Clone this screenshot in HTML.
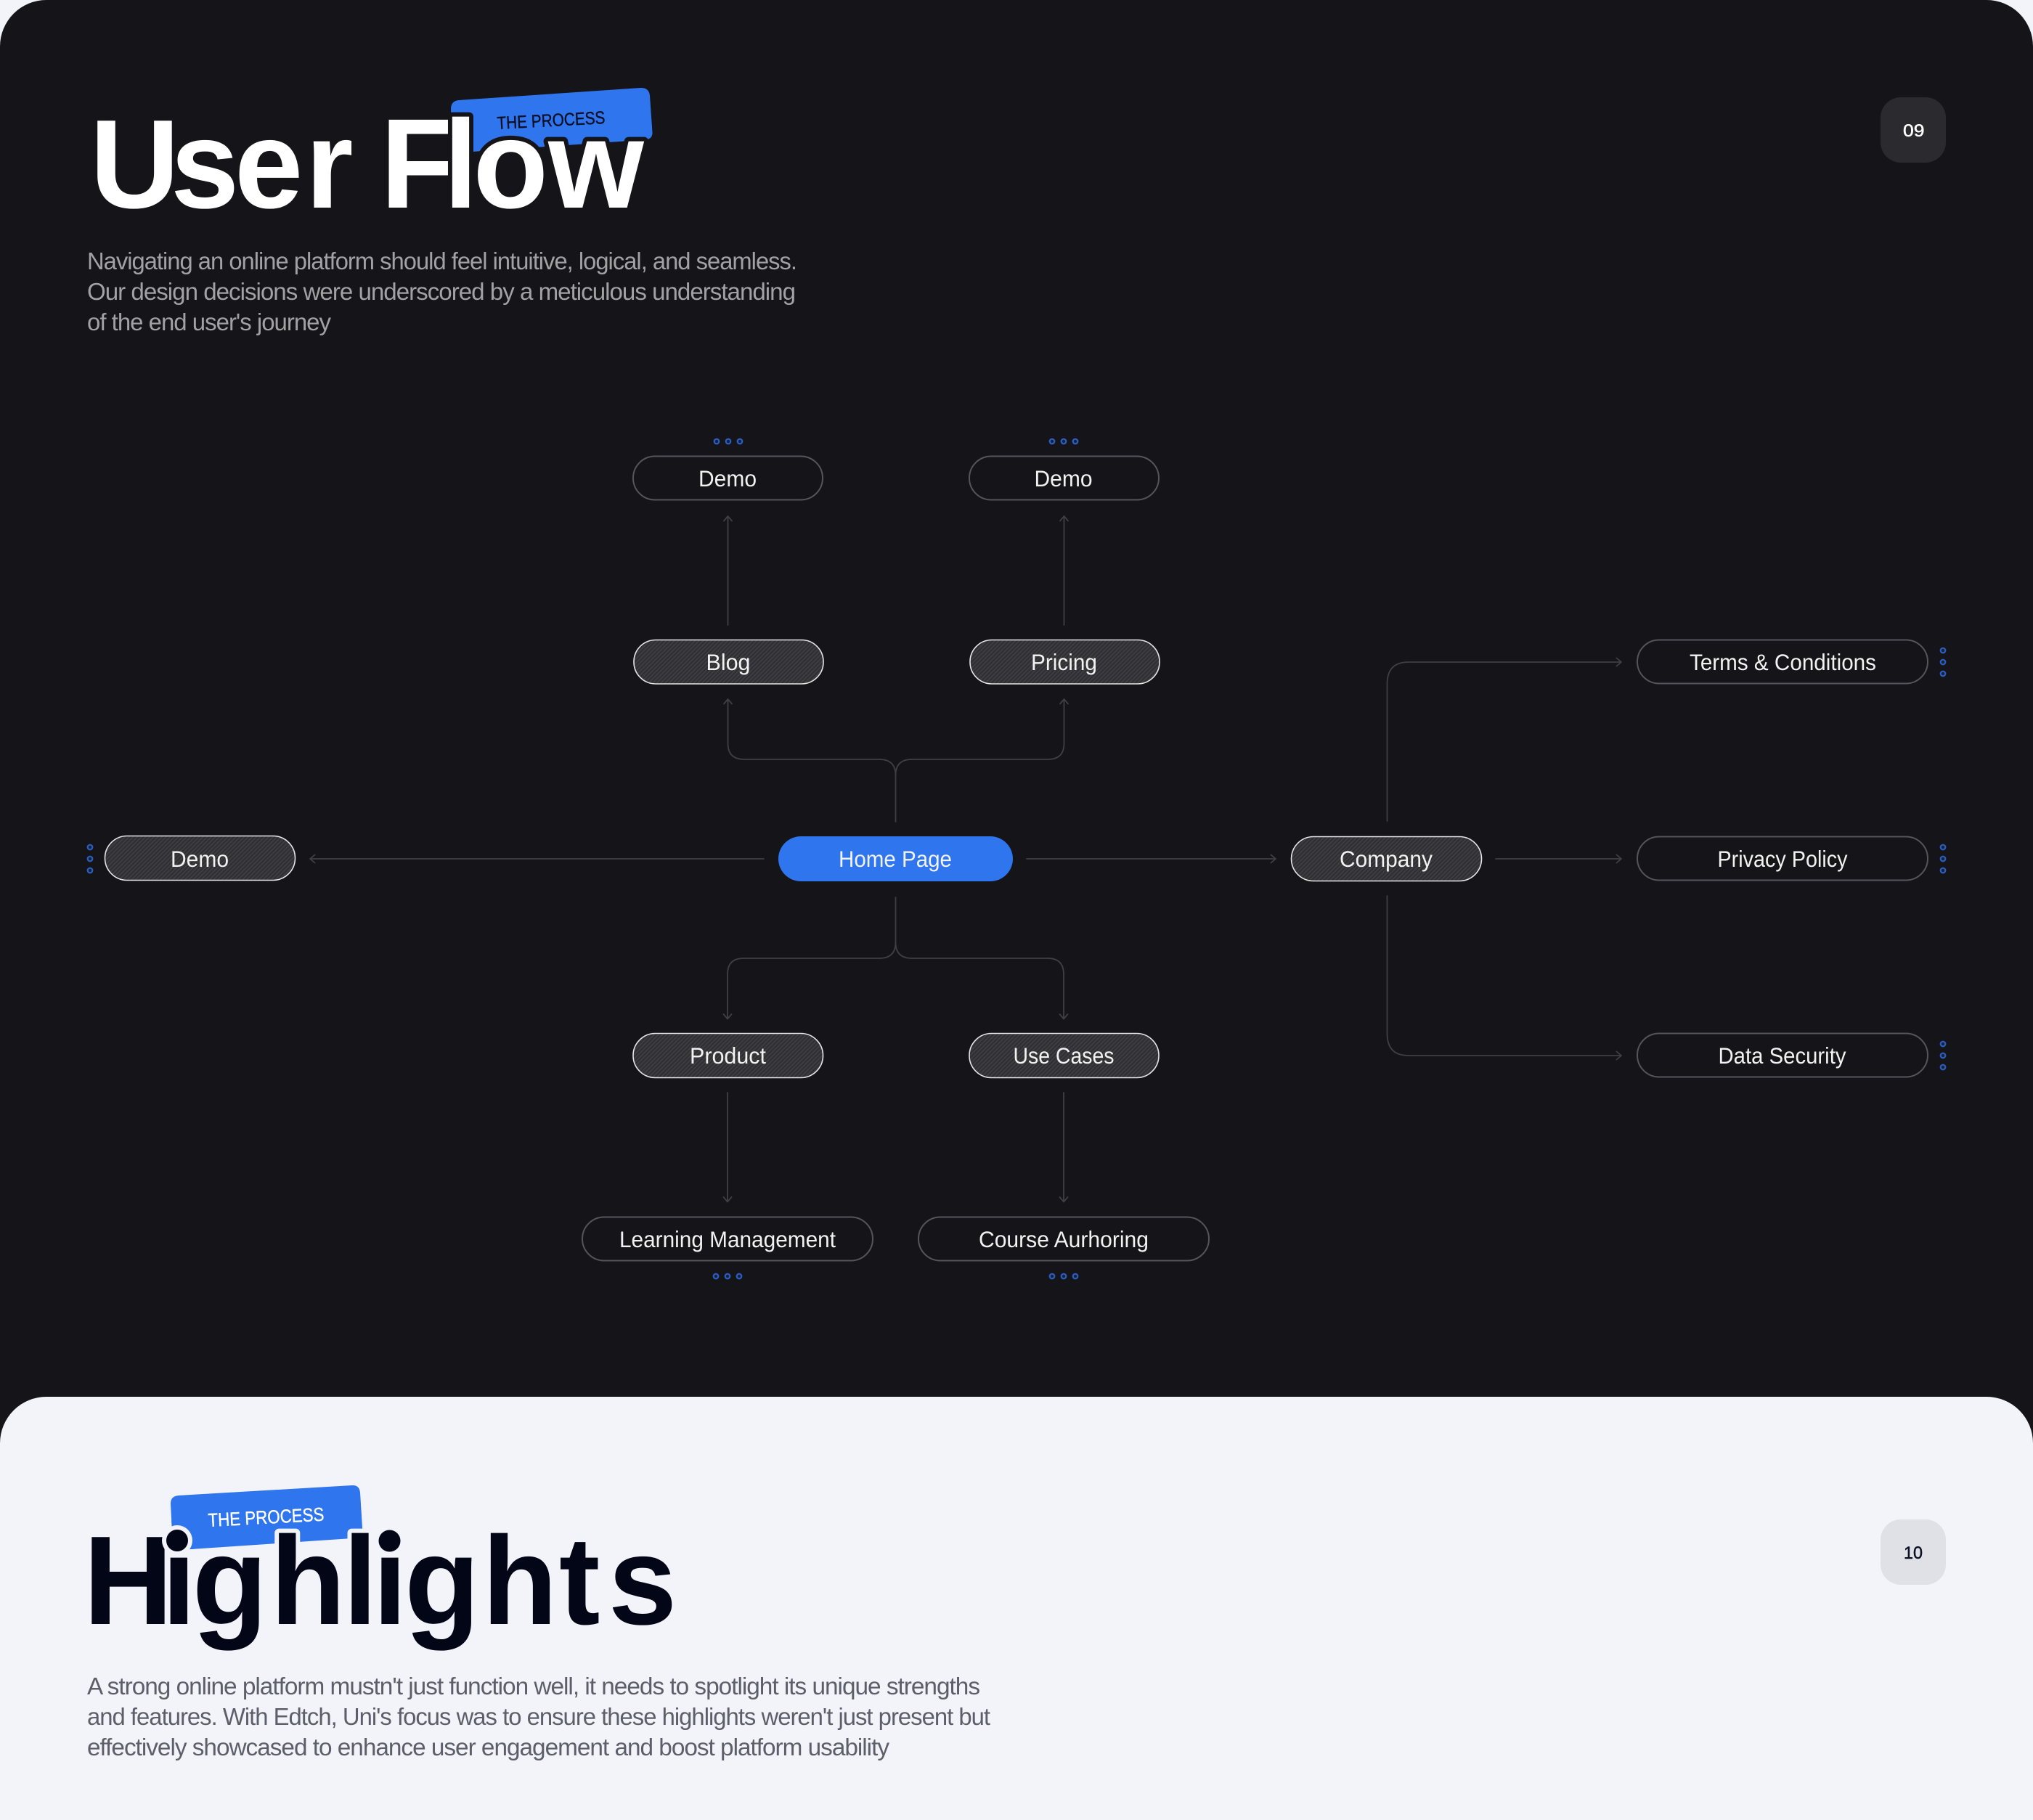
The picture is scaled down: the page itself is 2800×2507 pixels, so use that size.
<!DOCTYPE html>
<html lang="en">
<head>
<meta charset="utf-8">
<title>User Flow</title>
<style>
html,body{margin:0;padding:0;background:#f2f4fa}
svg{display:block}
text{font-family:"Liberation Sans",sans-serif}
.t{font-size:31.5px;fill:#f2f2f2}
.lt{fill:none;stroke:#404044;stroke-width:1.8;stroke-linecap:round;stroke-linejoin:round}
.o{fill:#141419;stroke:#55555a;stroke-width:2}
.h{fill:url(#hatch);stroke:#e6e6e6;stroke-width:1.6}
.d{fill:#16203a;stroke:#2a5fc0;stroke-width:2.2}
.p1{font-size:33px;fill:#a2a2a5;letter-spacing:-1px}
.p2{font-size:33px;fill:#5c5e6a;letter-spacing:-1px}
</style>
</head>
<body>
<svg xmlns="http://www.w3.org/2000/svg" width="2800" height="2507" viewBox="0 0 2800 2507">
<defs>
<pattern id="hatch" width="4" height="4" patternUnits="userSpaceOnUse" patternTransform="rotate(45)">
<rect width="4" height="4" fill="#2f2f33"/>
<rect width="1.8" height="4" fill="#3f3f43"/>
</pattern>
<path id="tag2" d="M235 2072Q234.500 2061 246 2060L485 2046Q495 2045.500 496 2056L499 2104L499.500 2118L263 2134L240 2135L237 2110Z"/>
<clipPath id="dotclip"><rect x="222" y="2095" width="46" height="47"/></clipPath>
</defs>

<rect width="2800" height="2507" fill="#f2f4fa"/>
<path d="M0 2507V64A64 64 0 0 1 64 0H2736A64 64 0 0 1 2800 64V2507Z" fill="#141419"/>

<!-- header -->
<path d="M621 150Q621 139 632 138L882 121Q894 120.500 895 132L898.500 182Q899 191.500 889 192.500L636 210L623 211Z" fill="#2e75ee"/>
<text x="685" y="178" font-size="24.500" fill="#0a0f24" stroke="#0a0f24" stroke-width=".4" textLength="149" lengthAdjust="spacingAndGlyphs" transform="rotate(-3.1 685 178)">THE PROCESS</text>
<text transform="scale(.98,1)" y="286" font-weight="700" fill="#ffffff" stroke="#141419" stroke-width="12" stroke-linejoin="round" paint-order="stroke"><tspan x="126.500" font-size="174">U</tspan><tspan x="239.800 329.600 429.200" font-size="173">ser</tspan> <tspan x="534.700" font-size="176">F</tspan><tspan x="623.500 664.800 770.400" font-size="173">low</tspan></text>

<text class="p1" x="120" y="371" textLength="977" lengthAdjust="spacingAndGlyphs">Navigating an online platform should feel intuitive, logical, and seamless.</text>
<text class="p1" x="120" y="413" textLength="975" lengthAdjust="spacingAndGlyphs">Our design decisions were underscored by a meticulous understanding</text>
<text class="p1" x="120" y="455" textLength="335" lengthAdjust="spacingAndGlyphs">of the end user's journey</text>

<rect x="2590" y="134" width="90" height="90" rx="28" fill="#2b2b2f"/>
<text x="2621" y="188" font-size="24.500" fill="#ffffff" stroke="#ffffff" stroke-width=".5" textLength="29.500" lengthAdjust="spacingAndGlyphs">09</text>

<!-- connectors -->
<g class="lt">
<path d="M1002.500 861V711M997 717.500L1002.500 711L1008 717.500"/>
<path d="M1465.500 861V711M1460 717.500L1465.500 711L1471 717.500"/>
<path d="M1233.500 1132V1068Q1233.500 1046 1211 1046H1025Q1002.500 1046 1002.500 1024V963M997 969.500L1002.500 963L1008 969.500"/>
<path d="M1233.500 1068Q1233.500 1046 1256 1046H1443Q1465.500 1046 1465.500 1024V963M1460 969.500L1465.500 963L1471 969.500"/>
<path d="M1052 1183H427M433.500 1177.500L427 1183L433.500 1188.500"/>
<path d="M1414 1183H1757M1750.500 1177.500L1757 1183L1750.500 1188.500"/>
<path d="M2060 1183H2233M2226.500 1177.500L2233 1183L2226.500 1188.500"/>
<path d="M1910.500 1131V942Q1910.500 912 1940 912H2233M2226.500 906.500L2233 912L2226.500 917.500"/>
<path d="M1910.500 1234V1424Q1910.500 1454 1940 1454H2233M2226.500 1448.500L2233 1454L2226.500 1459.500"/>
<path d="M1233.500 1236V1298Q1233.500 1320 1211 1320H1024Q1002 1320 1002 1342V1403.500M996.500 1397L1002 1403.500L1007.500 1397"/>
<path d="M1233.500 1298Q1233.500 1320 1256 1320H1443Q1465 1320 1465 1342V1403.500M1459.500 1397L1465 1403.500L1470.500 1397"/>
<path d="M1002 1505V1655.500M996.500 1649L1002 1655.500L1007.500 1649"/>
<path d="M1465 1505V1655.500M1459.500 1649L1465 1655.500L1470.500 1649"/>
</g>

<!-- nodes -->
<rect class="o" x="872" y="628.500" width="261" height="60" rx="30"/>
<rect class="o" x="1335" y="628.500" width="261" height="60" rx="30"/>
<rect class="h" x="873" y="881.500" width="261" height="60.500" rx="30"/>
<rect class="h" x="1336" y="881.500" width="261" height="60.500" rx="30"/>
<rect class="h" x="144.500" y="1151.500" width="262" height="61" rx="30.500"/>
<rect x="1072" y="1152" width="323" height="62" rx="31" fill="#2e75ee"/>
<rect class="h" x="1778.500" y="1152.500" width="262" height="61" rx="30.500"/>
<rect class="o" x="2255" y="881.500" width="400" height="60" rx="30"/>
<rect class="o" x="2255" y="1152.500" width="400" height="60" rx="30"/>
<rect class="o" x="2255" y="1423.500" width="400" height="60" rx="30"/>
<rect class="h" x="872" y="1423.500" width="261.500" height="61" rx="30.500"/>
<rect class="h" x="1335" y="1423.500" width="261" height="61" rx="30.500"/>
<rect class="o" x="802" y="1676.500" width="400" height="60" rx="30"/>
<rect class="o" x="1265" y="1676.500" width="400" height="60" rx="30"/>

<text class="t" x="962" y="670" textLength="80" lengthAdjust="spacingAndGlyphs">Demo</text>
<text class="t" x="1424.500" y="670" textLength="80" lengthAdjust="spacingAndGlyphs">Demo</text>
<text class="t" x="972.500" y="923" textLength="61" lengthAdjust="spacingAndGlyphs">Blog</text>
<text class="t" x="1420" y="923" textLength="91" lengthAdjust="spacingAndGlyphs">Pricing</text>
<text class="t" x="235" y="1194" textLength="80" lengthAdjust="spacingAndGlyphs">Demo</text>
<text class="t" x="1155" y="1194" textLength="156" lengthAdjust="spacingAndGlyphs">Home Page</text>
<text class="t" x="1845" y="1194" textLength="128" lengthAdjust="spacingAndGlyphs">Company</text>
<text class="t" x="2327" y="923" textLength="257" lengthAdjust="spacingAndGlyphs">Terms &amp; Conditions</text>
<text class="t" x="2365.500" y="1194" textLength="179" lengthAdjust="spacingAndGlyphs">Privacy Policy</text>
<text class="t" x="2366.500" y="1465" textLength="176" lengthAdjust="spacingAndGlyphs">Data Security</text>
<text class="t" x="950" y="1465" textLength="105" lengthAdjust="spacingAndGlyphs">Product</text>
<text class="t" x="1395.500" y="1465" textLength="139" lengthAdjust="spacingAndGlyphs">Use Cases</text>
<text class="t" x="853" y="1718" textLength="298" lengthAdjust="spacingAndGlyphs">Learning Management</text>
<text class="t" x="1348" y="1718" textLength="234" lengthAdjust="spacingAndGlyphs">Course Aurhoring</text>

<!-- dots -->
<g class="d">
<circle cx="987" cy="608" r="3.300"/><circle cx="1003" cy="608" r="3.300"/><circle cx="1019" cy="608" r="3.300"/>
<circle cx="1449" cy="608" r="3.300"/><circle cx="1465" cy="608" r="3.300"/><circle cx="1481" cy="608" r="3.300"/>
<circle cx="124" cy="1167" r="3.300"/><circle cx="124" cy="1183" r="3.300"/><circle cx="124" cy="1199" r="3.300"/>
<circle cx="2676" cy="896" r="3.300"/><circle cx="2676" cy="912" r="3.300"/><circle cx="2676" cy="928" r="3.300"/>
<circle cx="2676" cy="1167" r="3.300"/><circle cx="2676" cy="1183" r="3.300"/><circle cx="2676" cy="1199" r="3.300"/>
<circle cx="2676" cy="1438" r="3.300"/><circle cx="2676" cy="1454" r="3.300"/><circle cx="2676" cy="1470" r="3.300"/>
<circle cx="986" cy="1758" r="3.300"/><circle cx="1002" cy="1758" r="3.300"/><circle cx="1018" cy="1758" r="3.300"/>
<circle cx="1449" cy="1758" r="3.300"/><circle cx="1465" cy="1758" r="3.300"/><circle cx="1481" cy="1758" r="3.300"/>
</g>

<!-- light panel -->
<path d="M0 2507V1988A64 64 0 0 1 64 1924H2736A64 64 0 0 1 2800 1988V2507Z" fill="#f2f4fa"/>
<use href="#tag2" fill="#2e75ee"/>
<text x="287" y="2103" font-size="26" fill="#ffffff" stroke="#ffffff" stroke-width=".4" textLength="160" lengthAdjust="spacingAndGlyphs" transform="rotate(-3 287 2103)">THE PROCESS</text>
<text transform="scale(.98,1)" y="2237" font-weight="700" fill="#020617" stroke="#f2f4fa" stroke-width="12" stroke-linejoin="round" paint-order="stroke"><tspan x="117.300" font-size="174">H</tspan><tspan x="227.400 270.200 379.900 482.200 524 568.600 677.600 785.700 855" font-size="173">ighlights</tspan></text>
<!-- round i dots -->
<use href="#tag2" fill="#2e75ee" clip-path="url(#dotclip)"/>
<circle cx="244" cy="2122" r="21" fill="#f2f4fa"/>
<circle cx="244" cy="2122" r="15" fill="#020617"/>
<rect x="522" y="2102" width="30" height="38" fill="#f2f4fa"/>
<circle cx="536.500" cy="2122.500" r="15" fill="#020617"/>

<text class="p2" x="120" y="2334" textLength="1229" lengthAdjust="spacingAndGlyphs">A strong online platform mustn't just function well, it needs to spotlight its unique strengths</text>
<text class="p2" x="120" y="2376" textLength="1243" lengthAdjust="spacingAndGlyphs">and features. With Edtch, Uni's focus was to ensure these highlights weren't just present but</text>
<text class="p2" x="120" y="2418" textLength="1104" lengthAdjust="spacingAndGlyphs">effectively showcased to enhance user engagement and boost platform usability</text>

<rect x="2590" y="2093" width="90" height="90" rx="28" fill="#e0e1e6"/>
<text x="2622" y="2147" font-size="24.500" fill="#0a0f24" stroke="#0a0f24" stroke-width=".5" textLength="26" lengthAdjust="spacingAndGlyphs">10</text>
</svg>
</body>
</html>
